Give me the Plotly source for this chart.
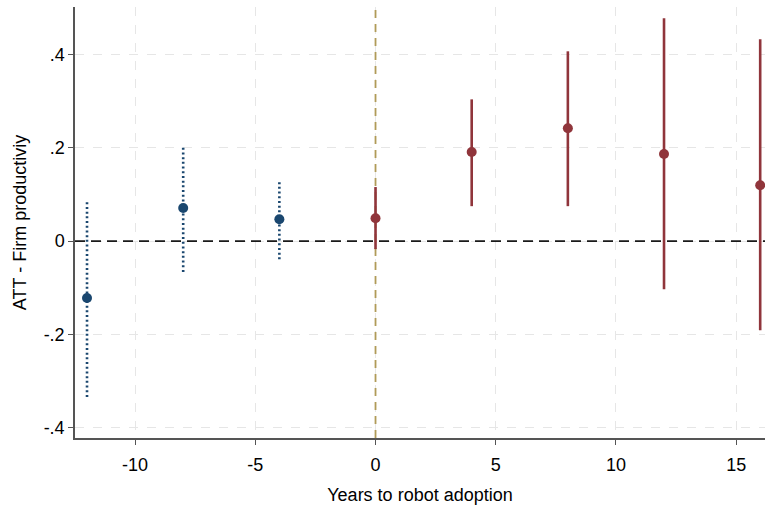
import plotly.graph_objects as go

# Event-study estimates
pre_x = [-12, -8, -4]
pre_y = [-0.122, 0.071, 0.047]
pre_lo = [-0.334, -0.066, -0.039]
pre_hi = [0.088, 0.206, 0.131]

post_x = [0, 4, 8, 12, 16]
post_y = [0.049, 0.191, 0.242, 0.187, 0.120]
post_lo = [-0.017, 0.075, 0.075, -0.103, -0.191]
post_hi = [0.116, 0.304, 0.407, 0.478, 0.433]

x_ticks = [-10, -5, 0, 5, 10, 15]
x_tick_labels = ["-10", "-5", "0", "5", "10", "15"]
y_ticks = [-0.4, -0.2, 0, 0.2, 0.4]
y_tick_labels = ["-.4", "-.2", "0", ".2", ".4"]

X_RANGE = [-12.5, 16.2]
Y_RANGE = [-0.422, 0.502]
EVENT_TIME = 0
NULL_EFFECT = 0

NAVY = "#1a476f"
MAROON = "#90353b"
SAND = "#b09b58"
FONT = "Liberation Sans, Arial, sans-serif"
FS = 18


def segments(xs, lo, hi):
    sx, sy = [], []
    for x, a, b in zip(xs, lo, hi):
        sx += [x, x, None]
        sy += [a, b, None]
    return sx, sy


fig = go.Figure()

# reference lines as traces
fig.add_trace(go.Scatter(x=[EVENT_TIME, EVENT_TIME], y=Y_RANGE, mode="lines",
                         line=dict(color=SAND, width=1.8, dash="8px,6px"),
                         hoverinfo="skip", showlegend=False))
fig.add_trace(go.Scatter(x=X_RANGE, y=[NULL_EFFECT, NULL_EFFECT], mode="lines",
                         line=dict(color="#1a1a1a", width=1.7, dash="10px,6px"),
                         hoverinfo="skip", showlegend=False))

psx, psy = segments(pre_x, pre_lo, pre_hi)
fig.add_trace(go.Scatter(x=psx, y=psy, mode="lines",
                         line=dict(color=NAVY, width=2.6, dash="2px,2.7px"),
                         hoverinfo="skip", showlegend=False))
qsx, qsy = segments(post_x, post_lo, post_hi)
fig.add_trace(go.Scatter(x=qsx, y=qsy, mode="lines",
                         line=dict(color=MAROON, width=2.6),
                         hoverinfo="skip", showlegend=False))

fig.add_trace(go.Scatter(x=pre_x, y=pre_y, mode="markers",
                         marker=dict(color=NAVY, size=10), showlegend=False))
fig.add_trace(go.Scatter(x=post_x, y=post_y, mode="markers",
                         marker=dict(color=MAROON, size=10), showlegend=False))

fig.update_layout(
    width=765, height=506,
    margin=dict(l=75, r=0, t=7, b=68),
    plot_bgcolor="white", paper_bgcolor="white",
    font=dict(family=FONT, size=FS, color="#000000"),
    showlegend=False,
)
fig.update_xaxes(
    range=X_RANGE, tickvals=x_ticks, ticktext=x_tick_labels,
    ticks="outside", ticklen=5, ticklabelstandoff=5,
    tickcolor="#555555", showline=True, linecolor="#555555", linewidth=1.5,
    showgrid=True, gridcolor="#e6e6e6", griddash="dash", gridwidth=1.2,
    zeroline=False, tickfont=dict(size=FS),
    title=dict(text="Years to robot adoption", font=dict(size=FS), standoff=14),
)
fig.update_yaxes(
    range=Y_RANGE, tickvals=y_ticks, ticktext=y_tick_labels,
    ticks="outside", ticklen=5, tickcolor="#555555",
    showline=True, linecolor="#555555", linewidth=1.5,
    showgrid=True, gridcolor="#e6e6e6", griddash="dash", gridwidth=1.2,
    zeroline=False, tickfont=dict(size=FS),
    title=dict(text="ATT - Firm productiviy", font=dict(size=FS), standoff=12),
)

fig.write_html("out.html", config={"displayModeBar": False},
               post_script="document.body.style.margin='0px';")
